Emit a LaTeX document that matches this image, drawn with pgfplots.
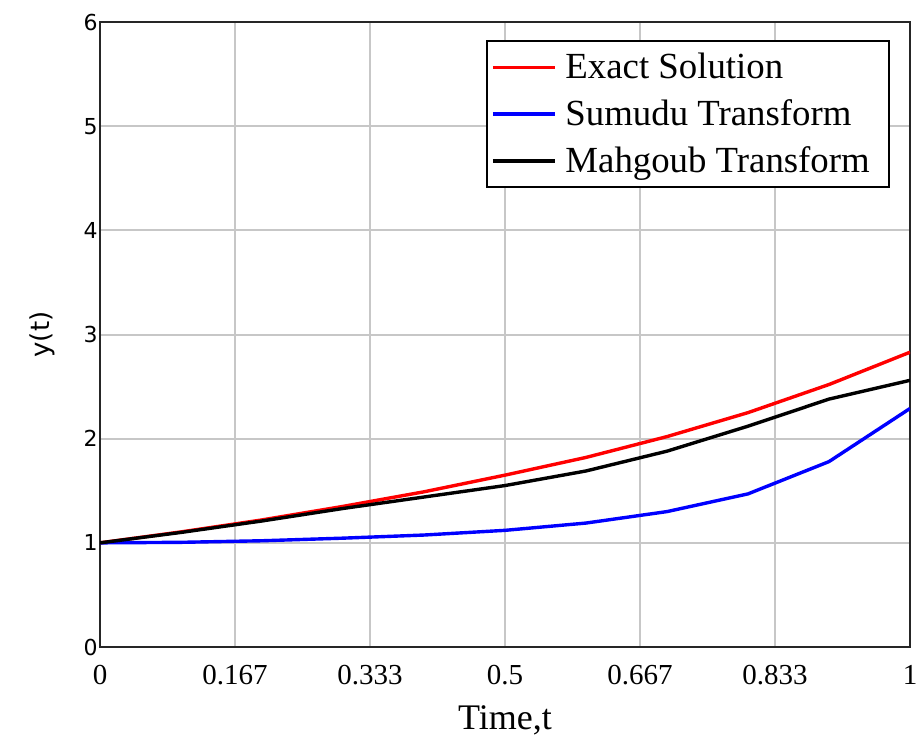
\documentclass[border=0pt]{standalone}
\usepackage{fontspec}
\setmainfont{Liberation Serif}
\newfontfamily\dejavu{DejaVu Sans}
\usepackage{pgfplots}
\pgfplotsset{compat=1.18}
\begin{document}
\begin{tikzpicture}
\path[use as bounding box] (-50pt,-44.5pt) rectangle (409.5pt,323.5pt);
\begin{axis}[
  at={(0,0)}, anchor=south west,
  scale only axis, width=405pt, height=312.5pt,
  xmin=0, xmax=1, ymin=0, ymax=6,
  xtick={0,0.16667,0.33333,0.5,0.66667,0.83333,1},
  xticklabels={0,0.167,0.333,0.5,0.667,0.833,1},
  ytick={0,1,2,3,4,5,6},
  /pgf/number format/assume math mode=true,
  grid=major,
  major grid style={color=black!22, line width=1pt},
  axis line style={line width=1pt, black!85},
  tick style={draw=none},
  x tick label style={font=\fontsize{14.5}{16}\selectfont, yshift=-5.7pt},
  y tick label style={font=\dejavu\fontsize{11}{12}\selectfont, inner sep=1pt},
  xlabel={Time,t},
  xlabel style={font=\fontsize{18}{20}\selectfont, at={(axis description cs:0.5,0)}, anchor=center, yshift=-36.5pt},
  ylabel={y(t)},
  ylabel style={font=\dejavu\fontsize{13}{15}\selectfont, at={(axis description cs:0,0.5)}, anchor=center, yshift=29pt},
  legend cell align=left,
  legend style={at={(0.975,0.971)}, anchor=north east, draw=black, line width=1pt,
    font=\fontsize{18.4}{20}\selectfont, inner xsep=2pt, inner ysep=4pt, row sep=5pt},
  legend image code/.code={\draw[#1] (0pt,0pt) -- (31pt,0pt); \path (33.5pt,0pt);},
]
\addplot[red, line width=1.7pt] coordinates {
 (0,1) (0.1,1.105) (0.2,1.22) (0.3,1.35) (0.4,1.49) (0.5,1.65)
 (0.6,1.82) (0.7,2.02) (0.8,2.25) (0.9,2.52) (1,2.83)};
\addlegendentry{Exact Solution}
\addplot[blue, line width=1.7pt] coordinates {
 (0,1) (0.1,1.005) (0.2,1.02) (0.3,1.045) (0.4,1.075) (0.5,1.12)
 (0.6,1.19) (0.7,1.30) (0.8,1.47) (0.9,1.78) (1,2.29)};
\addlegendentry{Sumudu Transform}
\addplot[black, line width=1.7pt] coordinates {
 (0,1) (0.1,1.10) (0.2,1.21) (0.3,1.33) (0.4,1.44) (0.5,1.55)
 (0.6,1.69) (0.7,1.88) (0.8,2.12) (0.9,2.38) (1,2.56)};
\addlegendentry{Mahgoub Transform\rule{5.5pt}{0pt}}
\end{axis}
\end{tikzpicture}
\end{document}
